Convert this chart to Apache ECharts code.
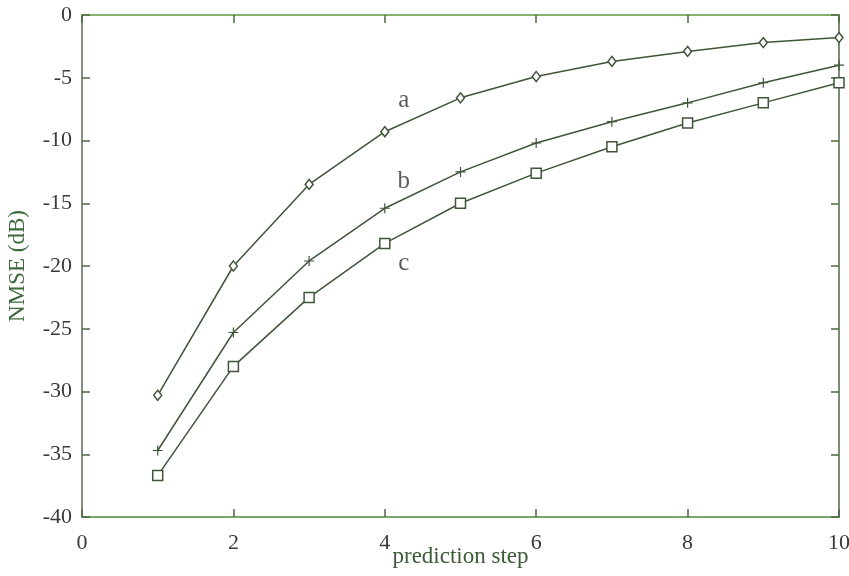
<!DOCTYPE html>
<html>
<head>
<meta charset="utf-8">
<script src="https://cdn.jsdelivr.net/npm/echarts@6/dist/echarts.min.js"></script>
<style>html,body{margin:0;padding:0;background:#fff;overflow:hidden;}#c{width:849px;height:576px;}</style>
</head>
<body>
<div id="c"></div>
<script>
var steps = [1, 2, 3, 4, 5, 6, 7, 8, 9, 10];
var seriesA = [-30.3, -20.0, -13.5, -9.3, -6.6, -4.9, -3.7, -2.9, -2.2, -1.8];
var seriesB = [-34.7, -25.3, -19.6, -15.4, -12.5, -10.2, -8.5, -7.0, -5.4, -4.0];
var seriesC = [-36.7, -28.0, -22.5, -18.2, -15.0, -12.6, -10.5, -8.6, -7.0, -5.4];
var curveLabels = ['a', 'b', 'c'];
var labelX = [4.25, 4.25, 4.25];
var labelY = [-6.8, -13.3, -19.8];

var FONT = 'Liberation Serif';
var LINE = '#3f5538';
function pairs(v) { return steps.map(function (s, i) { return [s, v[i]]; }); }
var plus = 'path://M0,4.4 H10 V5.6 H0 Z M4.4,0 H5.6 V10 H4.4 Z';

var chart = echarts.init(document.getElementById('c'), null, {renderer: 'canvas'});
chart.setOption({
  animation: false,
  backgroundColor: '#ffffff',
  grid: {left: 82, right: 10, top: 15, bottom: 59, containLabel: false, outerBoundsMode: 'none'},
  xAxis: [{
    type: 'value', min: 0, max: 10, interval: 2, position: 'bottom',
    name: 'prediction step', nameLocation: 'middle', nameGap: 28, nameMoveOverlap: false,
    nameTextStyle: {fontFamily: FONT, fontSize: 23, color: '#3d5a38'},
    axisLine: {onZero: false, lineStyle: {color: '#4d8a3a', width: 1.5}},
    axisTick: {inside: true, length: 8, lineStyle: {color: '#4d6a40', width: 1.5}},
    axisLabel: {fontFamily: FONT, fontSize: 22, color: '#3a3a3a', margin: 15},
    splitLine: {show: false}
  }, {
    type: 'value', min: 0, max: 10, interval: 2, position: 'top',
    axisLine: {show: true, onZero: false, lineStyle: {color: '#5a9a3a', width: 1.5}},
    axisTick: {inside: true, length: 8, lineStyle: {color: '#4d6a40', width: 1.5}},
    axisLabel: {show: false}, splitLine: {show: false}
  }],
  yAxis: [{
    type: 'value', min: -40, max: 0, interval: 5, position: 'left',
    name: 'NMSE (dB)', nameLocation: 'middle', nameGap: 53, nameMoveOverlap: false,
    nameTextStyle: {fontFamily: FONT, fontSize: 23, color: '#3d6b3d'},
    axisLine: {onZero: false, lineStyle: {color: '#5a6a55', width: 1.5}},
    axisTick: {inside: true, length: 8, lineStyle: {color: '#4d6a40', width: 1.5}},
    axisLabel: {fontFamily: FONT, fontSize: 22, color: '#3a3a3a', margin: 10},
    splitLine: {show: false}
  }, {
    type: 'value', min: -40, max: 0, interval: 5, position: 'right',
    axisLine: {show: true, onZero: false, lineStyle: {color: '#4a6a40', width: 1.5}},
    axisTick: {inside: true, length: 8, lineStyle: {color: '#4d6a40', width: 1.5}},
    axisLabel: {show: false}, splitLine: {show: false}
  }],
  series: [{
    type: 'line', data: pairs(seriesA), clip: false,
    symbol: 'diamond', symbolSize: [8, 10],
    lineStyle: {color: LINE, width: 1.5},
    itemStyle: {color: '#ffffff', borderColor: LINE, borderWidth: 1.5}
  }, {
    type: 'line', data: pairs(seriesB), clip: false,
    symbol: plus, symbolSize: 10,
    lineStyle: {color: LINE, width: 1.5},
    itemStyle: {color: LINE, borderWidth: 0}
  }, {
    type: 'line', data: pairs(seriesC), clip: false,
    symbol: 'rect', symbolSize: 10,
    lineStyle: {color: LINE, width: 1.5},
    itemStyle: {color: '#ffffff', borderColor: LINE, borderWidth: 1.5}
  }, {
    type: 'scatter', symbolSize: 0, silent: true,
    data: curveLabels.map(function (t, i) { return {value: [labelX[i], labelY[i]], name: t}; }),
    label: {show: true, position: 'inside', formatter: '{b}', fontFamily: FONT, fontSize: 25, color: '#333333'}
  }]
});
</script>
</body>
</html>
